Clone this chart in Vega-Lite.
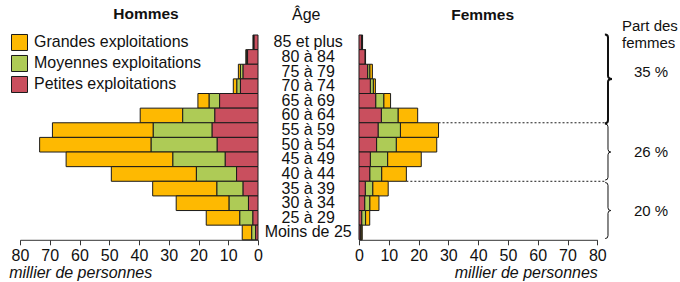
{
  "$schema": "https://vega.github.io/schema/vega-lite/v6.json",
  "background": "white",
  "padding": {"left": 8, "top": 7, "right": 0, "bottom": 0},
  "bounds": "flush",
  "spacing": 0,
  "config": {
    "font": "Liberation Sans",
    "view": {"stroke": null},
    "axis": {
      "domainColor": "#333", "tickColor": "#333", "labelColor": "#111",
      "labelFontSize": 16, "tickSize": 5, "labelPadding": 3, "grid": false,
      "labelFlush": false, "labelOverlap": false,
      "titleFontSize": 16, "titleFontStyle": "italic", "titleFontWeight": "normal", "titleColor": "#111"
    },
    "title": {"fontSize": 15.5, "fontWeight": "bold", "color": "#111", "offset": 11, "baseline": "alphabetic", "anchor": "middle"},
    "legend": {"padding": 0}
  },
  "datasets": {
    "pop": [
      {"sexe": "Hommes", "age": "85 et plus", "Grandes exploitations": 0.2, "Moyennes exploitations": 0.2, "Petites exploitations": 1.3},
      {"sexe": "Hommes", "age": "80 à 84", "Grandes exploitations": 0.3, "Moyennes exploitations": 0.3, "Petites exploitations": 3.5},
      {"sexe": "Hommes", "age": "75 à 79", "Grandes exploitations": 0.7, "Moyennes exploitations": 0.9, "Petites exploitations": 5.0},
      {"sexe": "Hommes", "age": "70 à 74", "Grandes exploitations": 1.2, "Moyennes exploitations": 1.2, "Petites exploitations": 5.9},
      {"sexe": "Hommes", "age": "65 à 69", "Grandes exploitations": 3.8, "Moyennes exploitations": 3.5, "Petites exploitations": 12.9},
      {"sexe": "Hommes", "age": "60 à 64", "Grandes exploitations": 14.3, "Moyennes exploitations": 10.8, "Petites exploitations": 14.5},
      {"sexe": "Hommes", "age": "55 à 59", "Grandes exploitations": 33.9, "Moyennes exploitations": 19.8, "Petites exploitations": 15.4},
      {"sexe": "Hommes", "age": "50 à 54", "Grandes exploitations": 37.5, "Moyennes exploitations": 22.2, "Petites exploitations": 13.7},
      {"sexe": "Hommes", "age": "45 à 49", "Grandes exploitations": 35.9, "Moyennes exploitations": 17.6, "Petites exploitations": 11.0},
      {"sexe": "Hommes", "age": "40 à 44", "Grandes exploitations": 28.6, "Moyennes exploitations": 13.5, "Petites exploitations": 7.2},
      {"sexe": "Hommes", "age": "35 à 39", "Grandes exploitations": 21.6, "Moyennes exploitations": 8.8, "Petites exploitations": 5.0},
      {"sexe": "Hommes", "age": "30 à 34", "Grandes exploitations": 17.8, "Moyennes exploitations": 6.5, "Petites exploitations": 3.2},
      {"sexe": "Hommes", "age": "25 à 29", "Grandes exploitations": 11.3, "Moyennes exploitations": 4.4, "Petites exploitations": 1.7},
      {"sexe": "Hommes", "age": "Moins de 25", "Grandes exploitations": 3.2, "Moyennes exploitations": 1.3, "Petites exploitations": 0.8},
      {"sexe": "Femmes", "age": "85 et plus", "Grandes exploitations": 0.2, "Moyennes exploitations": 0.2, "Petites exploitations": 0.8},
      {"sexe": "Femmes", "age": "80 à 84", "Grandes exploitations": 0.1, "Moyennes exploitations": 0.1, "Petites exploitations": 2.0},
      {"sexe": "Femmes", "age": "75 à 79", "Grandes exploitations": 0.9, "Moyennes exploitations": 0.7, "Petites exploitations": 2.9},
      {"sexe": "Femmes", "age": "70 à 74", "Grandes exploitations": 0.7, "Moyennes exploitations": 1.0, "Petites exploitations": 3.8},
      {"sexe": "Femmes", "age": "65 à 69", "Grandes exploitations": 2.3, "Moyennes exploitations": 2.7, "Petites exploitations": 5.6},
      {"sexe": "Femmes", "age": "60 à 64", "Grandes exploitations": 6.6, "Moyennes exploitations": 5.6, "Petites exploitations": 7.5},
      {"sexe": "Femmes", "age": "55 à 59", "Grandes exploitations": 12.8, "Moyennes exploitations": 7.5, "Petites exploitations": 6.4},
      {"sexe": "Femmes", "age": "50 à 54", "Grandes exploitations": 13.6, "Moyennes exploitations": 6.6, "Petites exploitations": 5.9},
      {"sexe": "Femmes", "age": "45 à 49", "Grandes exploitations": 11.3, "Moyennes exploitations": 5.8, "Petites exploitations": 3.8},
      {"sexe": "Femmes", "age": "40 à 44", "Grandes exploitations": 8.3, "Moyennes exploitations": 4.0, "Petites exploitations": 3.6},
      {"sexe": "Femmes", "age": "35 à 39", "Grandes exploitations": 5.2, "Moyennes exploitations": 2.5, "Petites exploitations": 2.1},
      {"sexe": "Femmes", "age": "30 à 34", "Grandes exploitations": 3.1, "Moyennes exploitations": 1.7, "Petites exploitations": 1.9},
      {"sexe": "Femmes", "age": "25 à 29", "Grandes exploitations": 1.4, "Moyennes exploitations": 1.3, "Petites exploitations": 0.9},
      {"sexe": "Femmes", "age": "Moins de 25", "Grandes exploitations": 0.4, "Moyennes exploitations": 0.3, "Petites exploitations": 0.4}
    ],
    "parts": [
      {"tranche": "60 ans ou plus", "milieu": "70 à 74", "part": "35 %"},
      {"tranche": "40 à 59 ans", "milieu": "45 à 49", "part": "26 %"},
      {"tranche": "Moins de 40 ans", "milieu": "25 à 29", "part": "20 %"}
    ]
  },
  "hconcat": [
    {
      "width": 238, "height": 204.8,
      "title": {"text": "Hommes", "dx": 7},
      "data": {"name": "pop"},
      "transform": [
        {"filter": "datum.sexe === 'Hommes'"},
        {"fold": ["Grandes exploitations", "Moyennes exploitations", "Petites exploitations"], "as": ["taille", "valeur"]}
      ],
      "mark": {"type": "bar", "stroke": "#1a1a1a", "strokeWidth": 1},
      "encoding": {
        "y": {"field": "age", "type": "nominal", "axis": null,
              "scale": {"type": "band", "domain": ["85 et plus","80 à 84","75 à 79","70 à 74","65 à 69","60 à 64","55 à 59","50 à 54","45 à 49","40 à 44","35 à 39","30 à 34","25 à 29","Moins de 25"], "paddingInner": 0, "paddingOuter": 0}},
        "x": {"field": "valeur", "type": "quantitative", "stack": "zero",
              "scale": {"domain": [0, 80], "reverse": true, "nice": false},
              "axis": {"values": [0,10,20,30,40,50,60,70,80], "labelOverlap": false, "title": "millier de personnes", "titleAlign": "left", "titleAnchor": "start", "titleX": -11.3, "titleY": 38, "titleBaseline": "alphabetic"}},
        "color": {"field": "taille", "type": "nominal",
                  "scale": {"domain": ["Grandes exploitations", "Moyennes exploitations", "Petites exploitations"], "range": ["#FEB901", "#AECB56", "#C94F5E"]},
                  "legend": {"orient": "none", "legendX": -9, "legendY": -1, "title": null, "symbolType": "square", "symbolSize": 256, "symbolStrokeColor": "#1a1a1a", "symbolStrokeWidth": 1, "symbolOpacity": 1, "labelFontSize": 16, "labelColor": "#111", "labelLimit": 400, "rowPadding": 0, "labelOffset": 6}},
        "order": {"field": "taille", "sort": "descending"}
      }
    },
    {
      "width": 100.4, "height": 204.8,
      "title": {"text": "Âge", "fontWeight": "normal", "fontSize": 16, "dx": -2},
      "data": {"name": "pop"},
      "transform": [{"aggregate": [{"op": "count", "as": "n"}], "groupby": ["age"]}],
      "mark": {"type": "text", "fontSize": 16, "color": "#111", "align": "center", "baseline": "middle"},
      "encoding": {
        "y": {"field": "age", "type": "nominal", "axis": null,
              "scale": {"type": "band", "domain": ["85 et plus","80 à 84","75 à 79","70 à 74","65 à 69","60 à 64","55 à 59","50 à 54","45 à 49","40 à 44","35 à 39","30 à 34","25 à 29","Moins de 25"], "paddingInner": 0, "paddingOuter": 0}},
        "x": {"datum": 0.5, "type": "quantitative", "scale": {"domain": [0, 1], "nice": false}, "axis": null},
        "text": {"field": "age"}
      }
    },
    {
      "width": 238.3, "height": 204.8,
      "title": {"text": "Femmes", "dx": 4.5},
      "data": {"name": "pop"},
      "transform": [
        {"filter": "datum.sexe === 'Femmes'"},
        {"fold": ["Grandes exploitations", "Moyennes exploitations", "Petites exploitations"], "as": ["taille", "valeur"]}
      ],
      "layer": [
        {
          "mark": {"type": "bar", "stroke": "#1a1a1a", "strokeWidth": 1},
          "encoding": {
            "y": {"field": "age", "type": "nominal", "axis": null,
                  "scale": {"type": "band", "domain": ["85 et plus","80 à 84","75 à 79","70 à 74","65 à 69","60 à 64","55 à 59","50 à 54","45 à 49","40 à 44","35 à 39","30 à 34","25 à 29","Moins de 25"], "paddingInner": 0, "paddingOuter": 0}},
            "x": {"field": "valeur", "type": "quantitative", "stack": "zero",
                  "scale": {"domain": [0, 80], "nice": false},
                  "axis": {"values": [0,10,20,30,40,50,60,70,80], "labelOverlap": false, "title": "millier de personnes", "titleAlign": "right", "titleAnchor": "end", "titleX": 238.3, "titleY": 38, "titleBaseline": "alphabetic"}},
            "color": {"field": "taille", "type": "nominal", "legend": null},
            "order": {"field": "taille", "sort": "descending"}
          }
        },
        {
          "transform": [
            {"filter": "datum.age === '55 à 59'"},
            {"aggregate": [{"op": "sum", "field": "valeur", "as": "total"}], "groupby": ["age"]}
          ],
          "mark": {"type": "rule", "color": "#1a1a1a", "strokeWidth": 1, "strokeDash": [2, 2]},
          "encoding": {
            "y": {"field": "age", "type": "nominal", "bandPosition": 0, "axis": null},
            "x": {"field": "total", "type": "quantitative",
                  "axis": {"values": [0,10,20,30,40,50,60,70,80], "labelOverlap": false, "title": "millier de personnes", "titleAlign": "right", "titleAnchor": "end", "titleX": 238.3, "titleY": 38, "titleBaseline": "alphabetic"}},
            "x2": {"datum": 83}
          }
        },
        {
          "transform": [
            {"filter": "datum.age === '40 à 44'"},
            {"aggregate": [{"op": "sum", "field": "valeur", "as": "total"}], "groupby": ["age"]}
          ],
          "mark": {"type": "rule", "color": "#1a1a1a", "strokeWidth": 1, "strokeDash": [2, 2]},
          "encoding": {
            "y": {"field": "age", "type": "nominal", "bandPosition": 1, "axis": null},
            "x": {"field": "total", "type": "quantitative",
                  "axis": {"values": [0,10,20,30,40,50,60,70,80], "labelOverlap": false, "title": "millier de personnes", "titleAlign": "right", "titleAnchor": "end", "titleX": 238.3, "titleY": 38, "titleBaseline": "alphabetic"}},
            "x2": {"datum": 83}
          }
        }
      ]
    },
    {
      "width": 84, "height": 204.8,
      "data": {"name": "parts"},
      "layer": [
        {
          "transform": [{"filter": "datum.part === '35 %'"}],
          "mark": {"type": "point", "filled": false, "opacity": 1, "stroke": "#111", "strokeWidth": 2, "size": 7921,
                   "shape": "M-0.07,-1 Q0,-1 0,-0.93 L0,-0.07 Q0,0 0.09,0 Q0,0 0,0.07 L0,0.93 Q0,1 -0.07,1"},
          "encoding": {
            "y": {"field": "milieu", "type": "nominal", "bandPosition": 0, "axis": null,
                  "scale": {"type": "band", "domain": ["85 et plus","80 à 84","75 à 79","70 à 74","65 à 69","60 à 64","55 à 59","50 à 54","45 à 49","40 à 44","35 à 39","30 à 34","25 à 29","Moins de 25"], "paddingInner": 0, "paddingOuter": 0}},
            "x": {"datum": 10, "type": "quantitative", "scale": {"domain": [0, 84], "nice": false}, "axis": null}
          }
        },
        {
          "transform": [{"filter": "datum.part !== '35 %'"}],
          "mark": {"type": "point", "filled": false, "opacity": 1, "stroke": "#111", "strokeWidth": 1, "size": 3136,
                   "shape": "M-0.1,-1 Q0,-1 0,-0.9 L0,-0.1 Q0,0 0.1,0 Q0,0 0,0.1 L0,0.9 Q0,1 -0.1,1"},
          "encoding": {
            "y": {"field": "milieu", "type": "nominal", "bandPosition": 0},
            "x": {"datum": 10, "type": "quantitative"}
          }
        },
        {
          "transform": [{"filter": "datum.part === '35 %'"}],
          "mark": {"type": "text", "fontSize": 15, "color": "#111", "align": "center", "baseline": "middle", "dy": -7},
          "encoding": {
            "y": {"field": "milieu", "type": "nominal", "bandPosition": 0},
            "x": {"datum": 53, "type": "quantitative"},
            "text": {"field": "part"}
          }
        },
        {
          "transform": [{"filter": "datum.part !== '35 %'"}],
          "mark": {"type": "text", "fontSize": 15, "color": "#111", "align": "center", "baseline": "middle", "dy": 0},
          "encoding": {
            "y": {"field": "milieu", "type": "nominal", "bandPosition": 0},
            "x": {"datum": 53, "type": "quantitative"},
            "text": {"field": "part"}
          }
        },
        {
          "data": {"values": [{"libelle": "Part des femmes"}]},
          "mark": {"type": "text", "fontSize": 15, "color": "#111", "align": "left", "baseline": "middle", "lineHeight": 16.7, "dy": -8.5, "text": ["Part des", "femmes"]},
          "encoding": {
            "y": {"datum": "85 et plus", "type": "nominal", "bandPosition": 0},
            "x": {"datum": 24, "type": "quantitative"}
          }
        }
      ]
    }
  ],
  "resolve": {
    "scale": {"x": "independent", "y": "independent", "color": "shared"},
    "legend": {"color": "independent"}
  }
}
